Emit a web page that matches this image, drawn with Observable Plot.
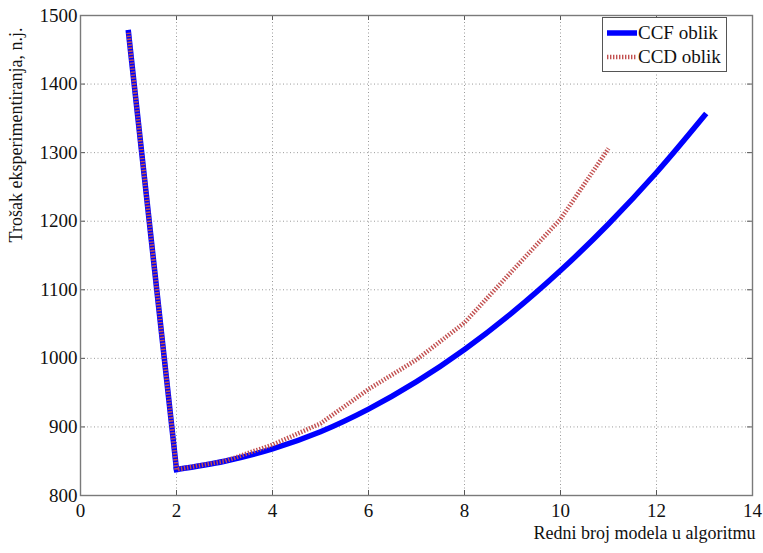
<!DOCTYPE html>
<html><head><meta charset="utf-8">
<script src="https://cdn.jsdelivr.net/npm/d3@7"></script>
<script src="https://cdn.jsdelivr.net/npm/@observablehq/plot@0.6"></script>
<style>
body{margin:0;background:#fff}
#wrap{position:relative;width:763px;height:553px}
#legend{position:absolute;left:602px;top:17px;width:125px;height:55px;border:1px solid #555;background:#fff;box-sizing:border-box;font-family:'Liberation Serif','Times New Roman','DejaVu Serif',serif;font-size:19px;color:#111}
#legend .row{position:absolute;left:4px;height:24px;display:flex;align-items:center}
#legend svg{width:30px;height:8px;margin-right:1px}
</style>
</head><body><div id="wrap"></div>
<script>
const modelIndex = [1,2,3,4,5,6,7,8,9,10,11,12,13];
const ccfCost = [1475,838,850,868,893,926,966,1013,1067,1128,1196,1271,1354];
const ccdCost = [1475,838,850,874,905,955,998,1052,1128,1203,1306];
const xTicks = [0,2,4,6,8,10,12,14];
const yTicks = [800,900,1000,1100,1200,1300,1400,1500];
const seriesNames = ["CCF oblik","CCD oblik"];
const seriesColors = ["#0000ff","#c25050"];
const xLabel = "Redni broj modela u algoritmu";
const yLabel = "Trošak eksperimentiranja, n.j.";

const ccfData = ccfCost.map((v,i)=>({x:modelIndex[i], y:v}));
const ccdData = ccdCost.map((v,i)=>({x:modelIndex[i], y:v}));
// first segment (1→2) is straight; the CCF rest is a smooth curve
const head = d => d.x <= 2, tail = d => d.x >= 2;

const FONT = "'Liberation Serif','Times New Roman','DejaVu Serif',serif";
const W=763, H=553, mL=80, mR=11, mT=15, mB=58;
const plotW=W-mL-mR, plotH=H-mT-mB;
const grid = {stroke:"#9a9a9a", strokeOpacity:1, strokeDasharray:"1,2.5", strokeWidth:1};
const tickStyle = {stroke:"#555", strokeWidth:1};
const ccfStyle = {x:"x", y:"y", stroke:seriesColors[0], strokeWidth:5.5, strokeLinejoin:"round", strokeLinecap:"square"};
const ccdStyle = {x:"x", y:"y", stroke:seriesColors[1], strokeWidth:4.5, strokeDasharray:"1.4,1.6", strokeLinecap:"butt"};

const chart = Plot.plot({
  width:W, height:H, marginLeft:mL, marginRight:mR, marginTop:mT, marginBottom:mB,
  style:{fontFamily:FONT, fontSize:"19px", color:"#111", background:"#fff", overflow:"visible"},
  x:{domain:[0,14]},
  y:{domain:[800,1500]},
  marks:[
    Plot.gridX(xTicks, grid),
    Plot.gridY(yTicks, grid),
    Plot.tickX(xTicks, {x:d=>d, insetTop:plotH-5, ...tickStyle}),
    Plot.tickX(xTicks, {x:d=>d, insetBottom:plotH-5, ...tickStyle}),
    Plot.tickY(yTicks, {y:d=>d, insetRight:plotW-5, ...tickStyle}),
    Plot.tickY(yTicks, {y:d=>d, insetLeft:plotW-5, ...tickStyle}),
    Plot.frame({stroke:"#7a7a7a", strokeWidth:1.4}),
    Plot.axisX(xTicks, {tickSize:0, tickPadding:8, label:null, tickFormat:d=>String(d), fontFamily:FONT}),
    Plot.axisY(yTicks, {tickSize:0, tickPadding:3, label:null, tickFormat:d=>String(d), fontFamily:FONT}),
    Plot.line(ccfData.filter(head), ccfStyle),
    Plot.line(ccfData.filter(tail), {...ccfStyle, curve:"catmull-rom"}),
    Plot.line(ccdData, ccdStyle),
    Plot.text([xLabel], {frameAnchor:"bottom-right", textAnchor:"end", dx:3, dy:43, fontSize:18, fontFamily:FONT}),
  ]
});

d3.select(chart).append("text")
  .attr("transform","translate(18,135) rotate(-90)")
  .attr("text-anchor","middle").attr("dominant-baseline","middle")
  .attr("font-size",18).attr("font-family",FONT).attr("fill","#111")
  .text(yLabel);

const wrap = document.getElementById("wrap");
wrap.appendChild(chart);

const legend = document.createElement("div");
legend.id = "legend";
seriesNames.forEach((name,i)=>{
  const row = document.createElement("div");
  row.className = "row";
  row.style.top = (3 + i*24) + "px";
  const dash = i===1 ? 'stroke-dasharray="1.4,1.6"' : '';
  const sw = i===1 ? 4.5 : 5.5;
  row.innerHTML = `<svg viewBox="0 0 30 8"><line x1="0" y1="4" x2="30" y2="4" stroke="${seriesColors[i]}" stroke-width="${sw}" ${dash}/></svg><span>${name}</span>`;
  legend.appendChild(row);
});
wrap.appendChild(legend);
</script>
</body></html>
